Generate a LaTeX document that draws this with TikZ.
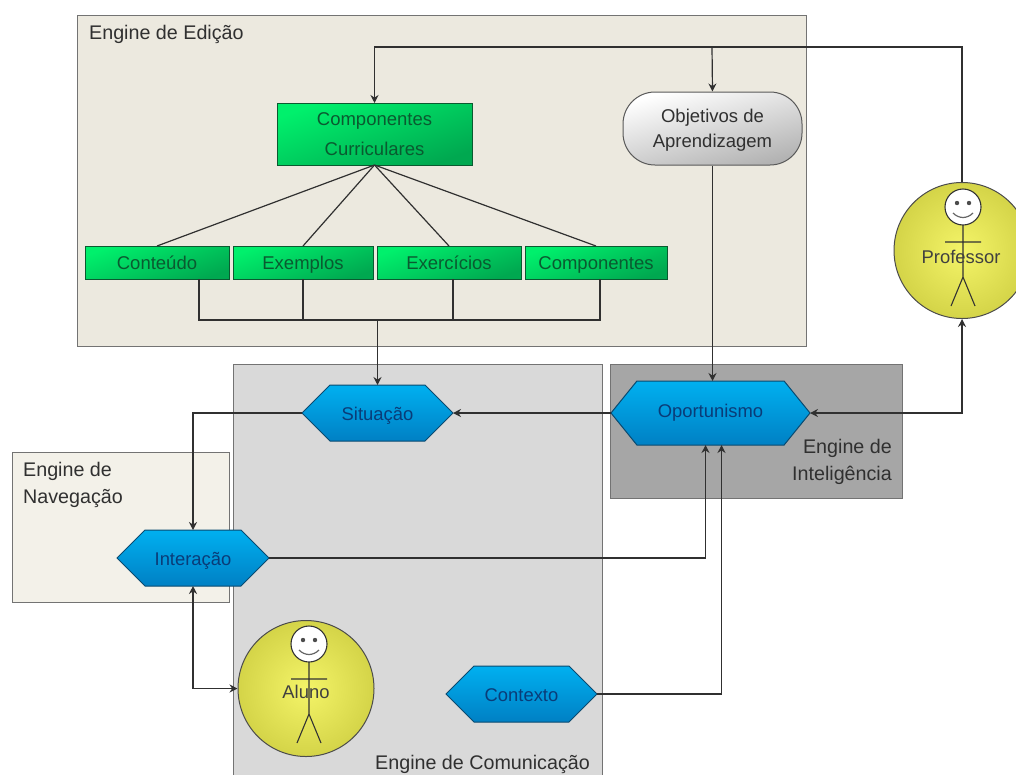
\documentclass[tikz,border=0pt]{standalone}
\usepackage{fontspec}
\setmainfont{Liberation Sans}
\usepackage{tikz}
\usetikzlibrary{arrows.meta,positioning,calc,shapes.symbols}

\definecolor{linegray}{HTML}{303030}
\definecolor{textgray}{HTML}{303030}
\definecolor{edicaofill}{HTML}{ECE9DF}
\definecolor{navfill}{HTML}{F3F1E9}
\definecolor{greentop}{HTML}{00F06C}
\definecolor{greenbot}{HTML}{00A850}
\definecolor{greentext}{HTML}{0A5A30}
\definecolor{bluetop}{HTML}{00B0F0}
\definecolor{bluebot}{HTML}{0080C4}
\definecolor{bluetext}{HTML}{0A3C78}
\definecolor{bluedraw}{HTML}{0A4A70}
\definecolor{yellowin}{HTML}{F4F468}
\definecolor{yellowout}{HTML}{D4D448}

\tikzset{
  panel/.style={draw=black!55, line width=1pt, anchor=north west, inner sep=0pt},
  paneltext/.style={inner sep=0pt, text=textgray, align=left, font=\fontsize{19.7}{27}\selectfont},
  greenbox/.style={draw=greentext, line width=1pt, inner sep=0pt, outer sep=0pt, align=center, text=greentext,
    top color=greentop, bottom color=greenbot, shading angle=20, font=\fontsize{18.5}{30}\selectfont},
  smallbox/.style={greenbox, minimum height=33pt, text height=17.5pt, text depth=4pt},
  hexa/.style={signal, signal from=nowhere, signal to=east and west, signal pointer angle=#1, draw=bluedraw,
    line width=1pt, inner sep=0pt, outer sep=0pt, top color=bluetop, bottom color=bluebot, text=bluetext,
    text height=17.5pt, text depth=2pt, font=\fontsize{18.4}{20}\selectfont},
  actor/.style={circle, draw=black!70, line width=1pt, minimum size=136pt, inner sep=0pt,
    inner color=yellowin, outer color=yellowout},
  actortext/.style={inner sep=0pt, text=black!75, font=\fontsize{18.4}{20}\selectfont},
  wire/.style={linegray, line width=1.2pt},
  arrow/.style={wire, -{Stealth[length=8pt,width=8pt]}},
  dblarrow/.style={wire, {Stealth[length=8pt,width=8pt]}-{Stealth[length=8pt,width=8pt]}},
  pics/stickman/.style={code={
    \draw[black!80, line width=1.1pt, fill=white] (0,-44) circle (18);
    \fill[black!70] (-6,-48) circle (2.2) (6,-48) circle (2.2);
    \draw[black!60, line width=1.2pt] (-10,-38) .. controls (-4,-32) and (4,-32) .. (10,-38);
    \draw[black!80, line width=1.1pt] (0,-26) -- (0,26) (-18,-9) -- (18,-9) (-12,55) -- (0,26) -- (12,55);
  }}
}

\begin{document}
\begin{tikzpicture}[x=1pt, y=-1pt]
  \useasboundingbox[fill=white] (0,0) rectangle (1016,774);

  % engines
  \node[panel, fill=edicaofill, minimum width=729pt, minimum height=331pt] (edicao) at (77,15) {};
  \node[panel, fill=black!15, minimum width=369pt, minimum height=420pt] (comunicacao) at (233,364) {};
  \node[panel, fill=black!35, minimum width=292pt, minimum height=134pt] (inteligencia) at (610,364) {};
  \node[panel, fill=navfill, minimum width=217pt, minimum height=150pt] (navegacao) at (12,452) {};
  \node[paneltext, anchor=west] (edicaotxt) at (89,34) {Engine de Edição};
  \node[paneltext, anchor=west] (comunicacaotxt) at (375,764) {Engine de Comunicação};
  \node[paneltext, anchor=north east, align=right] (inteligenciatxt) at (892,439.5) {Engine de\\Inteligência};
  \node[paneltext, anchor=north west] (navegacaotxt) at (23,462) {Engine de\\Navegação};

  % editing
  \node[greenbox, minimum width=195pt, minimum height=62pt] (curriculares) at (374.5,134) {Componentes\\Curriculares};
  \node[draw=black!65, line width=1pt, rounded corners=32pt, minimum width=179pt, minimum height=73pt, inner sep=0pt, align=center,
    top color=white, bottom color=black!30, shading angle=15, text=textgray, text depth=0pt,
    font=\fontsize{18.5}{25}\selectfont] (objetivos) at (712.5,128.5) {Objetivos de\\Aprendizagem};
  \node[smallbox, minimum width=144pt] (conteudo) at (157,262.5) {Conteúdo};
  \node[smallbox, minimum width=140pt, right=4pt of conteudo] (exemplos) {Exemplos};
  \node[smallbox, minimum width=144pt, right=4pt of exemplos] (exercicios) {Exercícios};
  \node[smallbox, minimum width=142pt, right=4pt of exercicios] (componentes) {Componentes};

  % hexagons
  \node[hexa=90, minimum width=151pt, minimum height=56pt] (situacao) at (377.5,413) {Situação};
  \node[hexa=102, minimum width=199pt, minimum height=64pt, text height=13.5pt, text depth=4pt] (oportunismo) at (710.5,413) {Oportunismo};
  \node[hexa=90, minimum width=152pt, minimum height=56pt] (interacao) at (193,558) {Interação};
  \node[hexa=90, minimum width=151pt, minimum height=56pt] (contexto) at (521.5,694) {Contexto};

  % actors
  \node[actor] (aluno) at (306,688.5) {};
  \pic at (309,688) {stickman};
  \node[actortext] (alunotxt) at (306,692) {Aluno};
  \node[actor] (professor) at (962,250.5) {};
  \pic at (963,251) {stickman};
  \node[actortext] (professortxt) at (961,257) {Professor};

  % connectors
  \coordinate (barra) at (712,47);
  \coordinate (busl) at (199,320);
  \coordinate (busr) at (600,320);
  \draw[arrow] (professor.north) |- (barra) -| (curriculares.north);
  \draw[arrow] (barra) -- (objetivos.north);
  \foreach \n in {conteudo,exemplos,exercicios,componentes}
    \draw[wire] (curriculares.south) -- (\n.north);
  \draw[wire] (conteudo.south -| busl) -- (busl) -- (busr) -- (componentes.south -| busr);
  \draw[wire] (exemplos.south) -- (exemplos.south |- busl);
  \draw[wire] ([xshift=4pt]exercicios.south) -- ([xshift=4pt]exercicios.south |- busl);
  \draw[arrow] (situacao.north |- busl) -- (situacao.north);
  \draw[arrow] (objetivos.south) -- (oportunismo.north -| objetivos.south);
  \draw[arrow] (oportunismo.west) -- (situacao.east);
  \draw[arrow] (situacao.west) -| (interacao.north);
  \draw[dblarrow] (interacao.south) |- (aluno.west);
  \draw[arrow] (interacao.east) -| ([xshift=-5pt]oportunismo.south);
  \draw[arrow] (contexto.east) -| ([xshift=11pt]oportunismo.south);
  \draw[dblarrow] (oportunismo.east) -| (professor.south);
\end{tikzpicture}
\end{document}
